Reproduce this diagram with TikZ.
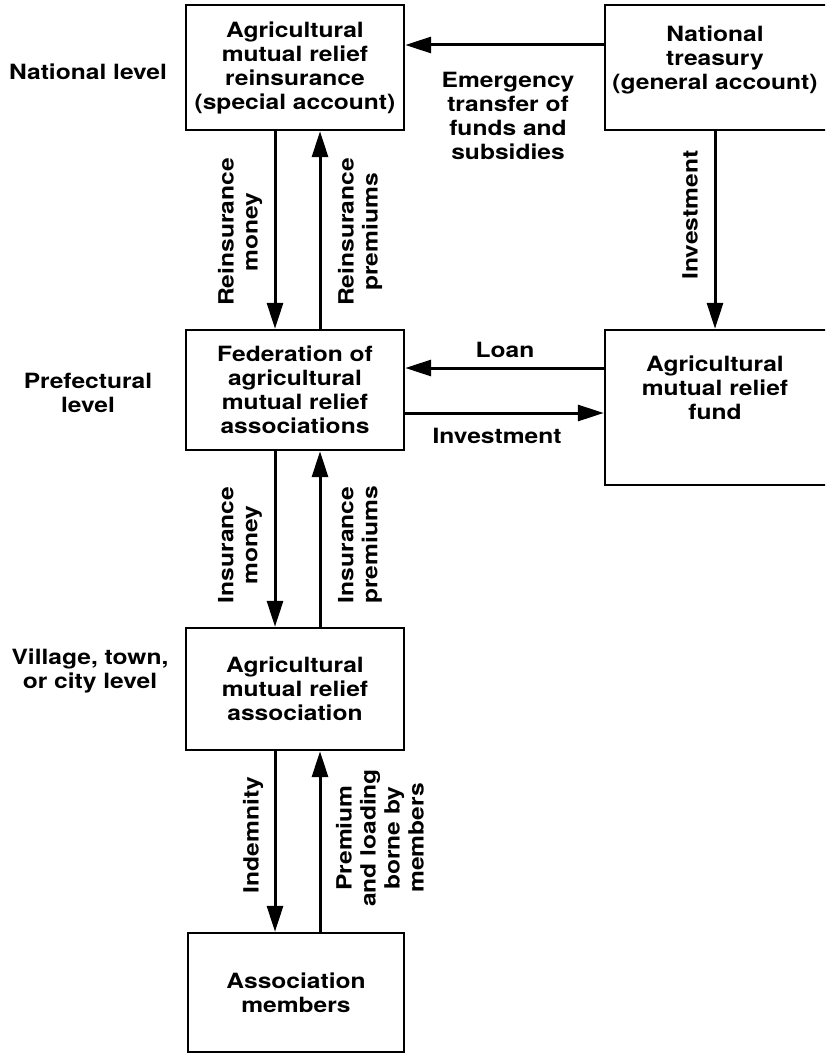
\documentclass[tikz,border=0pt]{standalone}
\usepackage{fontspec}
\setmainfont{TeX Gyre Heros}[FakeStretch=1.28]
\newfontfamily\lblfont{TeX Gyre Heros}[FakeStretch=1.17]
\usetikzlibrary{arrows.meta}
\begin{document}
\begin{tikzpicture}[x=1pt,y=-1pt,
  every node/.style={font=\lblfont\bfseries\fontsize{21}{24}\selectfont, inner sep=0pt},
  box/.style={draw, line width=2.4pt, rectangle},
  txt/.style={align=center},
  vlab/.style={align=center, rotate=90},
  arr/.style={line width=3pt, -{Triangle[length=26pt,width=16pt]}}]
\clip (0,0) rectangle (825,1054);
% boxes
\node[box, minimum width=218pt, minimum height=125pt, txt] (rein) at (295,67.5)
  {Agricultural\\mutual relief\\reinsurance\\(special account)};
\node[box, minimum width=225pt, minimum height=125pt] (treas) at (717.5,67.5) {};
\node[txt] (treastxt) at (715,60) {National\\treasury\\(general account)};
\node[box, minimum width=218pt, minimum height=120pt, txt] (fed) at (295,390)
  {Federation of\\agricultural\\mutual relief\\associations};
\node[box, minimum width=225pt, minimum height=155pt] (fund) at (717.5,407.5) {};
\node[txt] (fundtxt) at (715,388) {Agricultural\\mutual relief\\fund};
\node[box, minimum width=218pt, minimum height=122pt, txt] (assoc) at (295,689)
  {Agricultural\\mutual relief\\association};
\node[box, minimum width=216pt, minimum height=119pt, txt] (memb) at (296,992.5)
  {Association\\members};
% level labels
\node[txt] (natl) at (88,72) {National level};
\node[txt] (pref) at (88,393) {Prefectural\\level};
\node[txt] (vill) at (90,671) {Village, town,\\or city level};
% helper coordinates
\coordinate (xd) at (275,0);
\coordinate (xu) at (320,0);
\coordinate (xt) at (715,0);
\coordinate (ye) at (0,45);
\coordinate (yl) at (0,368);
\coordinate (yi) at (0,413);
% national
\draw[arr] (treas.west |- ye) -- (rein.east |- ye);
\node[txt] (emerg) at (508,116) {Emergency\\transfer of\\funds and\\subsidies};
\draw[arr] (treas.south -| xt) -- (fund.north -| xt);
\node[vlab] (invlab1) at (690,215) {Investment};
% rein <-> fed
\draw[arr] (rein.south -| xd) -- (fed.north -| xd);
\draw[arr] (fed.north -| xu) -- (rein.south -| xu);
\node[vlab] (rml) at (240,232) {Reinsurance\\money};
\node[vlab] (rpl) at (360,232) {Reinsurance\\premiums};
% fed <-> fund
\draw[arr] (fund.west |- yl) -- (fed.east |- yl);
\draw[arr] (fed.east |- yi) -- (fund.west |- yi);
\node[txt] (loan) at (505,350) {Loan};
\node[txt] (invlab2) at (497,436) {Investment};
% fed <-> assoc
\draw[arr] (fed.south -| xd) -- (assoc.north -| xd);
\draw[arr] (assoc.north -| xu) -- (fed.south -| xu);
\node[vlab] (iml) at (240,545) {Insurance\\money};
\node[vlab] (ipl) at (360,545) {Insurance\\premiums};
% assoc <-> members
\draw[arr] (assoc.south -| xd) -- (memb.north -| xd);
\draw[arr] (memb.north -| xu) -- (assoc.south -| xu);
\node[vlab] (indl) at (253,835) {Indemnity};
\node[vlab] (preml) at (380,838) {Premium\\and loading\\borne by\\members};
\end{tikzpicture}
\end{document}
